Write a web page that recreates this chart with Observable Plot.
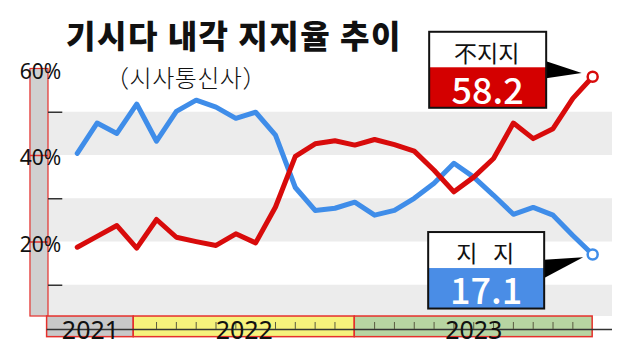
<!DOCTYPE html>
<html><head><meta charset="utf-8">
<script src="https://cdn.jsdelivr.net/npm/d3@7"></script>
<script src="https://cdn.jsdelivr.net/npm/@observablehq/plot@0.6"></script>
<style>
html,body{margin:0;padding:0;background:#fff;}
#chart{position:relative;width:644px;height:358px;overflow:hidden;}
</style>
</head><body>
<div id="chart"></div>
<script>
// ---- data ----
const months = ["2021-10","2021-11","2021-12","2022-01","2022-02","2022-03","2022-04","2022-05","2022-06","2022-07","2022-08","2022-09","2022-10","2022-11","2022-12","2023-01","2023-02","2023-03","2023-04","2023-05","2023-06","2023-07","2023-08","2023-09","2023-10","2023-11","2023-12"];
const support = [40.5,47.5,45.1,51.9,43.3,50.2,52.8,51.2,48.6,50.0,44.7,32.6,27.3,27.8,29.2,26.2,27.3,30.1,33.6,38.2,35.0,30.8,26.4,28.0,26.2,21.5,17.1];
const oppose  = [18.8,21.3,23.8,18.6,25.2,21.1,20.1,19.2,21.9,19.8,28.1,39.8,42.7,43.4,42.4,43.7,42.5,41.0,36.6,31.6,35.0,39.3,47.5,43.9,46.2,53.2,58.2];
const yearLabels = ["2021","2022","2023"];
const yearStart = [-1.52, 2.85, 14];   // month index
const yearEnd   = [2.85, 14, 26];
const yearFill  = ["#c8c8c8","#f6f27c","#b7d5a2"];
const tickMonths = ["2022-02","2022-03","2022-04","2022-05","2022-06","2022-07","2022-08","2022-09","2022-10","2022-11",
                    "2023-01","2023-02","2023-03","2023-04","2023-05","2023-06","2023-07","2023-08","2023-09","2023-10","2023-11"];
const yTickLabels = [60, 40, 20];
const yMinorTicks = [50, 30, 10];
const bandLow  = [2.77, 20, 40];
const bandHigh = [10, 30, 50];
const title = "기시다 내각 지지율 추이";
const subtitle = "（시사통신사）";
const opposeLabel = "不지지";
const supportLabel = "지   지";

const RED = "#d80b0b", BLUE = "#3f8de9", OUT = "#e5302c";
const X0 = -1.45, X1 = 27.0, BAR_L = -2.36;
const Y_BOT = 2.77, YEAR_BOT = -2.0, AXIS_V = -0.23, TICK_TOP = 1.39;

const idx = months.map((m, i) => i);
const supRows = idx.map(i => ({i, v: support[i]}));
const oppRows = idx.map(i => ({i, v: oppose[i]}));
const years = yearLabels.map((y, k) => ({label: y, s: yearStart[k], e: yearEnd[k], fill: yearFill[k]}));
const bands = bandLow.map((l, k) => ({l, h: bandHigh[k]}));
const ticks = tickMonths.map(m => months.indexOf(m));
const last = months.length - 1;

const plot = Plot.plot({
  width: 644, height: 358,
  x: {domain: [X0, X1], range: [48, 612], axis: null},
  y: {domain: [0, 60], range: [328, 68.5], axis: null},
  style: {background: "white", overflow: "visible"},
  marks: [
    Plot.rect(bands, {x1: X0, x2: X1, y1: "l", y2: "h", fill: "#ececec"}),
    Plot.rect([0], {x1: BAR_L, x2: X0, y1: Y_BOT, y2: 60, fill: "#d0d0d0", stroke: OUT, strokeWidth: 1.2}),
    Plot.ruleY([20, 40], {x1: BAR_L, x2: X0, stroke: OUT, strokeWidth: 1.5}),
    Plot.ruleY(yMinorTicks, {x1: X0, x2: X0 + 0.72, stroke: "#333", strokeWidth: 1.5}),
    Plot.rect(years, {x1: "s", x2: "e", y1: YEAR_BOT, y2: Y_BOT, fill: "fill", stroke: OUT, strokeWidth: 1.5}),
    Plot.ruleY([AXIS_V], {x1: yearStart[0], x2: X1, stroke: "#333", strokeWidth: 1.3}),
    Plot.ruleX(ticks, {y1: AXIS_V, y2: TICK_TOP, stroke: "#5a5a40", strokeWidth: 1}),
    Plot.text(years, {x: d => (d.s + d.e) / 2, y: AXIS_V, dy: 1.5, text: "label", fontSize: 25, fill: "#111",
      fontFamily: "Noto Sans", letterSpacing: -1.8}),
    Plot.text(yTickLabels, {x: (X0 + BAR_L) / 2 + 0.05, y: d => d, dy: 3, text: d => d + "%", fontSize: 21, fill: "#111",
      fontFamily: "Noto Sans", letterSpacing: -0.5}),
    Plot.line(supRows, {x: "i", y: "v", stroke: BLUE, strokeWidth: 5, strokeLinejoin: "round"}),
    Plot.line(oppRows, {x: "i", y: "v", stroke: RED, strokeWidth: 5, strokeLinejoin: "round"}),
    Plot.dot([supRows[last]], {x: "i", y: "v", r: 5, fill: "white", stroke: BLUE, strokeWidth: 2.5}),
    Plot.dot([oppRows[last]], {x: "i", y: "v", r: 5, fill: "white", stroke: RED, strokeWidth: 2.5})
  ]
});
document.getElementById("chart").appendChild(plot);

const svg = d3.select(plot);
const sx = plot.scale("x"), sy = plot.scale("y");
const CJK = "'Noto Sans CJK KR', 'Noto Sans', sans-serif";

svg.append("text").attr("x", 66).attr("y", 34).attr("dominant-baseline", "central").attr("text-anchor", "start")
  .attr("font-family", CJK).attr("font-weight", 900).attr("font-size", 32)
  .attr("letter-spacing", 1.5).attr("fill", "#111").text(title);
svg.append("text").attr("x", 186).attr("y", 76).attr("dominant-baseline", "central").attr("text-anchor", "middle")
  .attr("font-family", CJK).attr("font-weight", 300).attr("font-size", 24).attr("letter-spacing", 0.5).attr("fill", "#111").text(subtitle);

function callout(px, py, o, color, label, value) {
  const g = svg.append("g");
  g.append("path").attr("d", `M${px + o.t1[0]},${py + o.t1[1]}L${px + o.t2[0]},${py + o.t2[1]}L${px + o.tip[0]},${py + o.tip[1]}Z`).attr("fill", "#000");
  const x = px + o.x, y = py + o.y;
  g.append("rect").attr("x", x).attr("y", y).attr("width", o.w).attr("height", o.h).attr("fill", "#fff");
  g.append("rect").attr("x", x).attr("y", py + o.div).attr("width", o.w).attr("height", y + o.h - (py + o.div)).attr("fill", color);
  g.append("rect").attr("x", x).attr("y", y).attr("width", o.w).attr("height", o.h).attr("fill", "none").attr("stroke", "#111").attr("stroke-width", 2);
  g.append("text").attr("x", x + o.w / 2 - 1).attr("y", (y + py + o.div) / 2 + 2).attr("text-anchor", "middle").attr("dominant-baseline", "central")
    .attr("font-family", CJK).attr("font-size", 23).attr("fill", "#111").style("white-space", "pre").text(label);
  g.append("text").attr("x", x + o.w / 2).attr("y", (py + o.div + y + o.h) / 2).attr("text-anchor", "middle").attr("dominant-baseline", "central")
    .attr("font-family", CJK).attr("font-weight", 500).attr("font-size", 36).attr("fill", "#fff").text(value);
}
const opx = sx.apply(last), opy = sy.apply(oppose[last]);
callout(opx, opy, {x: -163, y: -44.5, w: 117, h: 76, div: -9, t1: [-46, -15], t2: [-46, 2], tip: [-10.5, -3.3]}, "#d40000", opposeLabel, oppose[last].toFixed(1));
const spx = sx.apply(last), spy = sy.apply(support[last]);
callout(spx, spy, {x: -164, y: -22, w: 116, h: 76.5, div: 14, t1: [-48, 5.7], t2: [-48, 24], tip: [-9, 3.3]}, "#4a8de6", supportLabel, support[last].toFixed(1));
</script>
</body></html>
